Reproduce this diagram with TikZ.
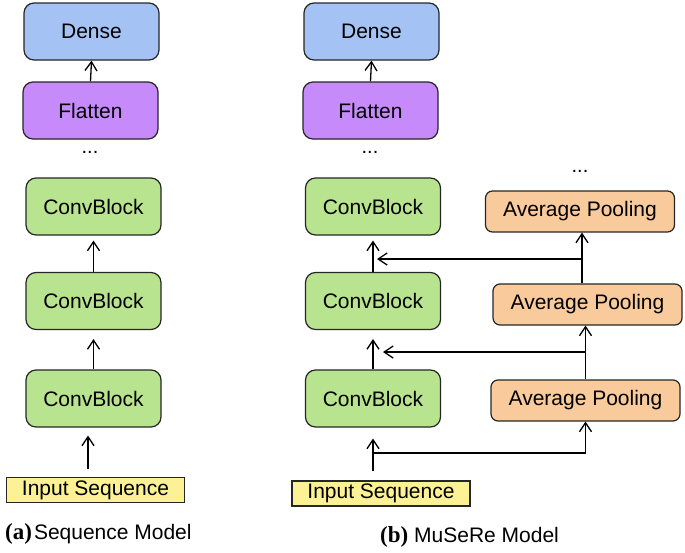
\documentclass[tikz,border=0pt]{standalone}
\usepackage{fontspec}
\setmainfont{Liberation Sans}
\newfontfamily\capfont{Liberation Serif}
\usetikzlibrary{arrows.meta}
\definecolor{denseblue}{HTML}{A4C2F4}
\definecolor{flatpurple}{HTML}{C78AFA}
\definecolor{convgreen}{HTML}{B9E48F}
\definecolor{poolorange}{HTML}{F9CB9C}
\definecolor{inyellow}{HTML}{FCF295}
\tikzset{
  blk/.style={draw=black!85, line width=1.2pt, rounded corners=10pt, minimum width=135pt, minimum height=57pt, inner sep=0pt, font=\fontsize{21}{21}\selectfont},
  poolblk/.style={draw=black!85, line width=1.2pt, rounded corners=7pt, fill=poolorange, minimum width=189pt, minimum height=41pt, inner sep=0pt, font=\fontsize{21}{21}\selectfont},
  inblk/.style={draw=black!85, line width=1.2pt, fill=inyellow, minimum width=178pt, minimum height=25pt, inner sep=0pt, font=\fontsize{21}{21}\selectfont},
  arr/.style={line width=1.3pt, -{Straight Barb[length=9pt,width=12pt,line width=1.3pt]}},
  dots/.style={font=\fontsize{20}{20}\selectfont, anchor=base},
  capt/.style={anchor=base west, font=\fontsize{21}{21}\selectfont, inner sep=0pt}
}
\begin{document}
\begin{tikzpicture}[x=1pt,y=-1pt]
\useasboundingbox[fill=white] (0,0) rectangle (685,552);
% (a) sequence model
\node[blk, fill=denseblue] (denseA) at (91.5,31.5) {Dense};
\node[blk, fill=flatpurple] (flatA) at (90.5,110.5) {Flatten};
\node[dots] (dotsA) at (90,153) {...};
\node[blk, fill=convgreen] (convA3) at (93.5,206.5) {ConvBlock};
\node[blk, fill=convgreen] (convA2) at (93.5,301) {ConvBlock};
\node[blk, fill=convgreen] (convA1) at (93.5,398.5) {ConvBlock};
\node[inblk] (inA) at (95.5,490) {Input Sequence};
\draw[arr] (flatA.north) -- (denseA.south);
\draw[arr, shorten >=5pt] (convA2.north) -- (convA3.south);
\draw[arr, shorten >=9pt] (convA1.north) -- (convA2.south);
\draw[arr, shorten <=8pt, shorten >=8pt] (inA.north -| 88,0) -- (convA1.south -| 88,0);
\node[capt] (captA) at (5,539) {{\capfont\bfseries\fontsize{23}{23}\selectfont(a)}\hspace{2pt}Sequence Model};
% (b) MuSeRe model
\node[blk, fill=denseblue] (denseB) at (371.5,31.5) {Dense};
\node[blk, fill=flatpurple] (flatB) at (370.5,110.5) {Flatten};
\node[dots] (dotsB) at (370,153) {...};
\node[blk, fill=convgreen] (convB3) at (373,206.5) {ConvBlock};
\node[blk, fill=convgreen] (convB2) at (373,301) {ConvBlock};
\node[blk, fill=convgreen] (convB1) at (373,398.5) {ConvBlock};
\node[inblk] (inB) at (381,493.5) {Input Sequence};
\node[dots] (dotsC) at (580,172) {...};
\node[poolblk] (poolB3) at (580,211.5) {Average Pooling};
\node[poolblk] (poolB2) at (587.5,304.5) {Average Pooling};
\node[poolblk] (poolB1) at (585.5,400.5) {Average Pooling};
\draw[arr] (flatB.north) -- (denseB.south);
\draw[arr, shorten >=5pt] (convB2.north) -- (convB3.south);
\draw[arr, shorten >=9pt] (convB1.north) -- (convB2.south);
% input to first block and to pooling branch
\coordinate (jin) at (373,453);
\draw[arr, shorten <=9pt, shorten >=11pt] (inB.north -| jin) -- (convB1.south -| jin);
\draw[arr] (jin) -| (poolB1.south);
% pooling outputs
\coordinate (j1) at (poolB1.north |- 0,352);
\draw[arr] (poolB1.north) -- (poolB1.north |- poolB2.south);
\draw[arr] (j1) -- (383,352);
\coordinate (j2) at (582,259);
\draw[arr] (poolB2.north -| j2) -- (poolB3.south -| j2);
\draw[arr] (j2) -- (377,259);
\node[capt] (captB) at (380,542) {{\capfont\bfseries\fontsize{23}{23}\selectfont(b)} MuSeRe Model};
\end{tikzpicture}
\end{document}
